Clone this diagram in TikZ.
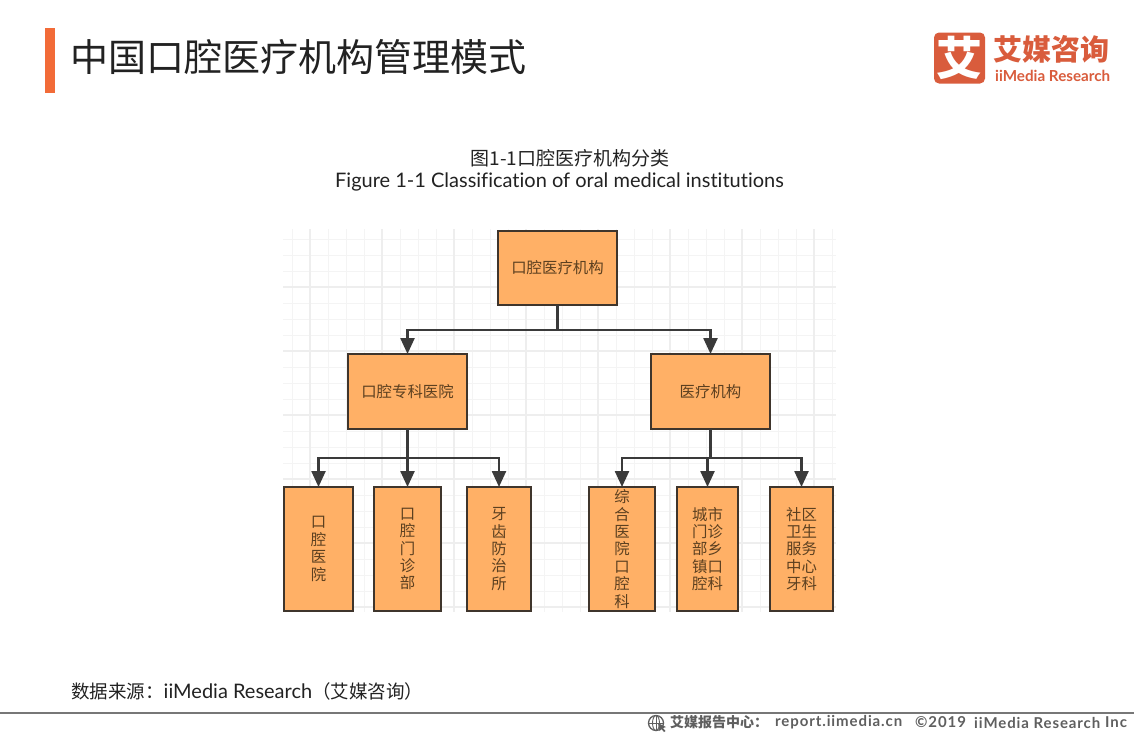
\documentclass[tikz,border=0pt]{standalone}
\usepackage{fontspec}
\usetikzlibrary{arrows.meta}
\setmainfont{Noto Sans CJK SC}
\newfontfamily\latinf[Ligatures=NoCommon]{Lato}
\newfontfamily\footf[LetterSpace=6]{Lato}
\definecolor{boxfill}{HTML}{FFB066}
\definecolor{boxline}{HTML}{3F352C}
\definecolor{wire}{HTML}{3A3A3A}
\definecolor{boxtext}{HTML}{5C4020}
\definecolor{accent}{HTML}{F26B38}
\definecolor{logoc}{HTML}{D95C3C}
\definecolor{titlec}{HTML}{222222}
\definecolor{gridlight}{HTML}{F4F4F4}
\definecolor{gridstrong}{HTML}{EEEEEE}
\definecolor{foot}{HTML}{5F5F5F}
\tikzset{
  orgbox/.style={draw=boxline,fill=boxfill,line width=2.4pt,outer sep=0pt,inner sep=0pt,align=center,text=boxtext,font=\fontsize{15.4}{17.4}\selectfont,anchor=north west},
  wirep/.style={draw=wire,line width=3pt},
  wirea/.style={draw=wire,line width=2.4pt,-{Triangle[length=16pt,width=14pt]}},
  lab/.style={inner sep=0pt,anchor=center}
}
\begin{document}
\begin{tikzpicture}[x=1pt,y=-1pt]
\useasboundingbox (0,0) rectangle (1134,737);
\fill[white] (0,0) rectangle (1134,737);
% header
\fill[accent] (45,28) rectangle (55,93);
\node[lab,anchor=west,text=titlec,font=\fontsize{38}{40}\selectfont] (title) at (70,57) {中国口腔医疗机构管理模式};
% logo
\node[fill=logoc,rounded corners=5pt,minimum width=51pt,minimum height=51pt,inner sep=0pt,text=white,font=\fontsize{46}{46}\bfseries\selectfont] (logo) at (959.5,58) {艾};
\node[lab,anchor=west,text=logoc,font=\fontsize{29}{30}\bfseries\selectfont] (brand) at (993,49) {艾媒咨询};
\node[lab,anchor=west,text=logoc,font=\latinf\fontsize{15.2}{16}\bfseries\selectfont] (brandl) at (995,75.5) {iiMedia Research};
% captions
\node[lab,text=titlec,font=\fontsize{19}{20}\selectfont] (cap1) at (570,158) {图1-1口腔医疗机构分类};
\node[lab,text=titlec,font=\latinf\fontsize{20}{22}\selectfont] (cap2) at (559.5,182) {Figure 1-1 Classification of oral medical institutions};
% grid
\foreach \x in {292,310,328,346,364,382,400,418,436,454,472,490,508,526,544,562,580,598,616,634,652,670,688,706,724,742,760,778,796,814,832}
  \draw[gridlight,line width=1pt] (\x,229) -- (\x,612);
\foreach \y in {239,255,271,287,303,319,335,351,367,383,399,415,431,447,463,479,495,511,527,543,559,575,591,607}
  \draw[gridlight,line width=1pt] (283,\y) -- (836,\y);
\foreach \y in {287,351,415,479,543,607}
  \draw[gridstrong,line width=1.1pt] (283,\y) -- (836,\y);
\foreach \x in {310,382,454,526,598,670,742,814}
  \draw[gridstrong,line width=1.1pt] (\x,229) -- (\x,612);
% boxes
\node[orgbox,minimum width=119pt,minimum height=74pt] (root) at (498,231) {口腔医疗机构};
\node[orgbox,minimum width=119pt,minimum height=75pt] (spec) at (348,354) {口腔专科医院};
\node[orgbox,minimum width=119pt,minimum height=75pt] (med) at (651,354) {医疗机构};
\node[orgbox,minimum width=69pt,minimum height=124pt] (a) at (284,487) {口\\腔\\医\\院};
\node[orgbox,minimum width=67pt,minimum height=124pt] (b) at (374,487) {口\\腔\\门\\诊\\部};
\node[orgbox,minimum width=64pt,minimum height=124pt] (c) at (467,487) {牙\\齿\\防\\治\\所};
\node[orgbox,minimum width=66pt,minimum height=124pt] (d) at (589,487) {综\\合\\医\\院\\口\\腔\\科};
\node[orgbox,minimum width=61pt,minimum height=124pt] (e) at (677,487) {城市\\门诊\\部乡\\镇口\\腔科};
\node[orgbox,minimum width=63pt,minimum height=124pt] (f) at (770,487) {社区\\卫生\\服务\\中心\\牙科};
% connectors
\coordinate (bus0) at (557.5,330);
\coordinate (busL) at (407.5,458);
\coordinate (busR) at (710.5,458);
\draw[wirep] (root.south) -- (bus0);
\draw[wirea] (bus0) -| (spec.north);
\draw[wirea] (bus0) -| (med.north);
\draw[wirep] (spec.south) -- (busL);
\draw[wirea] (busL) -| (a.north);
\draw[wirea] (busL) -- (b.north);
\draw[wirea] (busL) -| (c.north);
\draw[wirep] (med.south) -- (busR);
\draw[wirea] (busR) -| (d.north);
\draw[wirea] (busR) -| (e.north);
\draw[wirea] (busR) -| (f.north);
% source
\node[lab,anchor=west,text=titlec,font=\fontsize{18.5}{20}\selectfont] (src) at (71,691) {数据来源：{\latinf\fontsize{20}{20}\selectfont iiMedia Research}（艾媒咨询）};
% footer
\draw[foot!85,line width=2pt] (0,712.5) -- (1134,712.5);
\draw[foot,line width=1.3pt] (656,723) circle (7.5pt);
\draw[foot,line width=.9pt] (648.5,723) -- (663.5,723) (656,715.5) -- (656,730.5);
\draw[foot,line width=.9pt] (656,723) ellipse (3.5pt and 7.5pt);
\fill[foot] (658,723) -- (666,727) -- (663,728) -- (665.5,731) -- (664,732) -- (661.5,729) -- (659.5,731) -- cycle;
\node[lab,anchor=west,text=foot,font=\fontsize{14}{16}\bfseries\selectfont] (f1) at (670,722.5) {艾媒报告中心：};
\node[lab,anchor=west,text=foot,font=\footf\fontsize{15}{16}\bfseries\selectfont] (f2) at (775,722.5) {report.iimedia.cn};
\node[lab,anchor=west,text=foot,font=\footf\fontsize{15}{16}\bfseries\selectfont] (f3) at (915,722.5) {©2019};
\node[lab,anchor=west,text=foot,font=\footf\fontsize{15}{16}\bfseries\selectfont] (f4) at (974,722.5) {iiMedia Research};
\node[lab,anchor=west,text=foot,font=\footf\fontsize{15}{16}\bfseries\selectfont] (f5) at (1105,722.5) {Inc};
\end{tikzpicture}
\end{document}
